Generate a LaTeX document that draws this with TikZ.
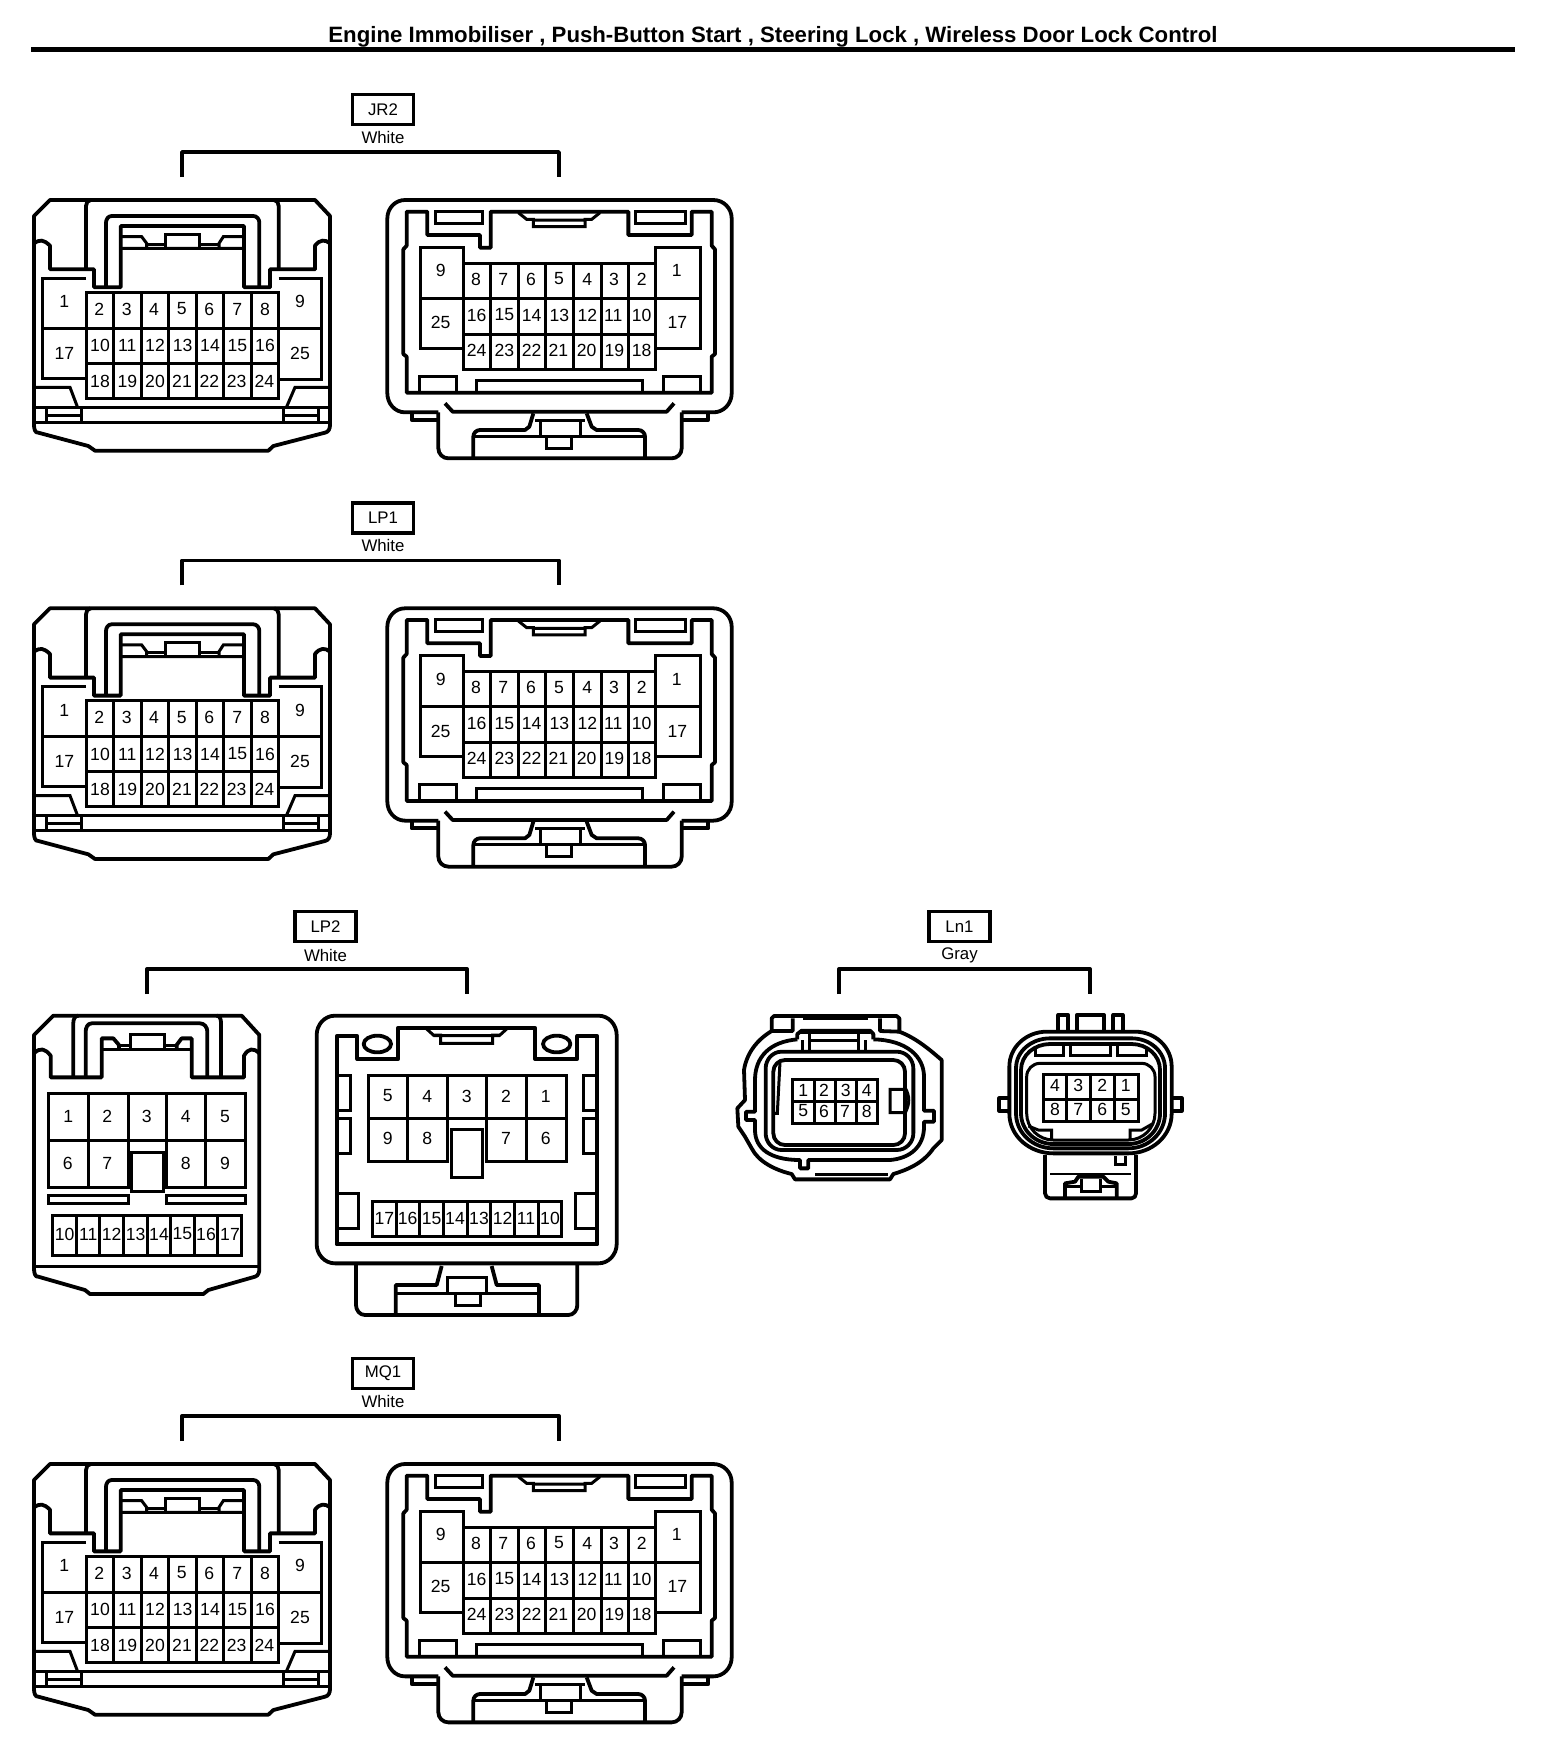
\documentclass[tikz,border=0pt]{standalone}
\usepackage{fontspec}
\setmainfont{Liberation Sans}
\tikzset{
  px/.style={x=0.5pt,y=-0.5pt},
  zm/.style={x=0.16667pt,y=-0.16667pt},
  hull/.style={draw=black,line width=1.9pt,line join=round},
  wall/.style={draw=black,line width=1.5pt,line join=miter},
  thinw/.style={draw=black,line width=1.1pt,line join=round},
  pin/.style={inner sep=0pt,font=\fontsize{8.8}{10}\selectfont},
  codebox/.style={draw=black,line width=1.7pt,minimum width=30.5pt,minimum height=15pt,inner sep=0pt,font=\fontsize{8.4}{10}\selectfont},
  colour/.style={inner sep=0pt,font=\fontsize{8.4}{10}\selectfont},
  brack/.style={draw=black,line width=1.7pt,line join=round},
}
% --- 25-way plug (left view)
\newcommand\plugA[2]{\begin{scope}[shift={(#2)},zm]
\draw[hull] (90,360)--(885,360)--(930,408)--(930,1035) to[out=-90,in=10] (915,1058)--(760,1098)--(745,1112)--(225,1112)--(205,1098)--(55,1058) to[out=190,in=-90] (42,1035)--(42,408)--cycle;
\draw[hull] (42,490)..controls (60,478) and (70,478)..(90,497)--(90,568)--(222,568)--(222,622)--(302,622)--(302,438)--(672,438)--(672,622)--(750,622)--(750,568)--(885,568)--(885,497)..controls (900,478) and (915,478)..(930,490);
\draw[hull] (198,568)--(198,378) to[out=90,in=180] (212,360);
\draw[hull] (776,568)--(776,378) to[out=90,in=0] (762,360);
\draw[hull] (258,622)--(258,428) to[out=90,in=180] (275,408)--(700,408) to[out=0,in=90] (718,428)--(718,622);
\draw[wall] (302,470)--(365,470)--(380,490)--(380,505) (302,505)--(672,505) (672,470)--(610,470)--(597,490)--(597,505);
\draw[wall] (435,505)--(435,462)--(538,462)--(538,505) (380,492)--(435,492) (538,492)--(597,492);
\draw[wall] (198,638) rectangle (776,955) (198,745)--(776,745) (198,850)--(776,850);
\foreach \c in {280,365,445,530,610,695} \draw[wall] (\c,638)--(\c,955);
\draw[wall] (198,595)--(68,595)--(68,895)--(198,895) (68,745)--(198,745);
\draw[wall] (776,595)--(905,595)--(905,897)--(776,897) (776,745)--(905,745);
\draw[wall] (42,922)--(150,922)--(172,980) (930,922)--(825,922)--(800,980);
\draw[wall] (42,982)--(930,982) (42,1028)--(930,1028);
\draw[wall] (78,985)--(78,1025) (185,985)--(185,1025) (78,1005)--(185,1005);
\draw[wall] (790,985)--(790,1025) (895,985)--(895,1025) (790,1005)--(895,1005);
\foreach \x/\y/\t in {133/665/1,238/687/2,320/687/3,402/687/4,485/687/5,568/687/6,652/687/7,735/687/8,840/665/9,240/797/10,322/797/11,405/797/12,488/797/13,570/797/14,652/797/15,735/797/16,133/820/17,240/903/18,322/903/19,405/903/20,486/903/21,568/903/22,650/903/23,733/903/24,840/820/25}
  \node[pin] (#1-\t) at (\x,\y) {\t};
\end{scope}}
% --- 25-way socket (right view)
\newcommand\plugB[2]{\begin{scope}[shift={(#2)},zm]
\draw[hull] (125,997)--(125,1020)--(205,1020);
\draw[hull] (205,997)--(205,1105) to[out=-90,in=180] (235,1135)--(905,1135) to[out=0,in=-90] (935,1105)--(935,997);
\draw[hull] (935,1020)--(1015,1020)--(1015,997);
\draw[hull] (205,997)--(105,997) to[out=180,in=-90] (52,940)--(52,415) to[out=90,in=180] (105,360)--(1030,360) to[out=0,in=90] (1085,415)--(1085,940) to[out=-90,in=0] (1030,997)--(935,997);
\draw[hull] (110,938)--(110,830)--(100,822)--(100,508)--(110,497)--(110,395)--(172,395)--(172,465)--(330,465)--(330,503)--(362,503)--(362,395)--(775,395)--(775,465)--(965,465)--(965,395)--(1025,395)--(1025,497)--(1035,508)--(1035,822)--(1025,830)--(1025,938)--cycle;
\draw[wall] (197,395) rectangle (337,430) (797,395) rectangle (945,430);
\draw[wall] (445,398)--(470,418)--(490,418)--(490,440)--(645,440)--(645,418)--(665,418)--(690,398) (490,420)--(645,420);
\draw[wall] (280,550) rectangle (855,868) (280,655)--(855,655) (280,762)--(855,762);
\foreach \c in {362,445,527,610,695,775} \draw[wall] (\c,550)--(\c,868);
\draw[wall] (280,550)--(280,503)--(150,503)--(150,805)--(280,805) (150,655)--(280,655);
\draw[wall] (855,550)--(855,503)--(990,503)--(990,805)--(855,805) (855,655)--(990,655);
\draw[wall] (148,938)--(148,890)--(258,890)--(258,938) (318,938)--(318,902)--(818,902)--(818,938) (880,938)--(880,890)--(990,890)--(990,938);
\draw[hull] (225,970)--(248,995)--(890,995)--(912,970);
\draw[hull] (490,1000)--(478,1040)--(465,1050)--(330,1050) to[out=180,in=90] (310,1070)--(310,1135);
\draw[hull] (650,1000)--(665,1040)--(680,1050)--(805,1050) to[out=0,in=90] (825,1070)--(825,1135);
\draw[wall] (310,1070)--(825,1070) (495,1020)--(645,1020) (510,1020)--(510,1070) (630,1020)--(630,1070) (530,1070)--(530,1105)--(605,1105)--(605,1070);
\foreach \x/\y/\t in {212/572/9,920/572/1,318/597/8,400/597/7,483/597/6,567/597/5,652/597/4,732/597/3,815/597/2,320/705/16,403/705/15,485/705/14,568/705/13,652/705/12,730/705/11,815/705/10,320/810/24,403/810/23,485/810/22,565/810/21,650/810/20,733/810/19,815/810/18,212/728/25,922/728/17}
  \node[pin] (#1-\t) at (\x,\y) {\t};
\end{scope}}
\newcommand\groupHead[8]{% name,label,colour,cx,boxy,left,right,colour y
  \node[codebox] (#1) at (#4,#5) {#2};
  \node[colour] (#1c) at (#4,#8) {#3};
  \coordinate (#1a) at (#6,{#5+42.5});
  \coordinate (#1b) at (#7,{#5+42.5});
  \draw[brack] (#1a)++(0,25)--(#1a)--(#1b)--++(0,25);
}
\begin{document}
\begin{tikzpicture}[px]
\useasboundingbox (0,0) rectangle (1568,1750);
\fill[white] (0,0) rectangle (1568,1750);
\node[inner sep=0pt,font=\bfseries\fontsize{11.1}{14}\selectfont] (title) at (773,36.5) {Engine Immobiliser , Push-Button Start , Steering Lock , Wireless Door Lock Control};
\coordinate (ruleL) at (31,49.3); \coordinate (ruleR) at (1515,49.3);
\draw[draw=black,line width=2.45pt] (ruleL)--(ruleR);
% group headers
\groupHead{jr}{JR2}{White}{383}{109.5}{182}{559}{137}
\groupHead{lpa}{LP1}{White}{383}{517.8}{182}{559}{545.3}
\groupHead{lpb}{LP2}{White}{325.5}{926.5}{147}{467}{955}
\groupHead{ln}{Ln1}{Gray}{959.5}{926.5}{839}{1090}{955}
\groupHead{mq}{MQ1}{White}{383}{1373.5}{182}{559}{1401}
\plugA{jrL}{20,80}
\plugB{jrR}{370,80}
\plugA{lpaL}{20,488.3}
\plugB{lpaR}{370,488.3}
\plugA{mqL}{20,1344}
\plugB{mqR}{370,1344}
% LP2 plug
\begin{scope}[shift={(20,900)},zm]
\draw[hull] (100,347)--(665,347)--(718,405)--(718,1105) to[out=-90,in=15] (705,1130)--(565,1170)--(550,1182)--(210,1182)--(195,1170)--(55,1130) to[out=195,in=-90] (42,1105)--(42,405)--cycle;
\draw[hull] (42,460)..controls (60,442) and (75,445)..(92,467)--(92,532)--(245,532)--(245,415)--(280,415)--(297,435)--(297,445);
\draw[hull] (718,460)..controls (700,442) and (685,445)..(672,467)--(672,532)--(515,532)--(515,415)--(485,415)--(470,435)--(470,445);
\draw[hull] (160,532)--(160,368) to[out=90,in=180] (175,347) (603,532)--(603,368) to[out=90,in=0] (590,347);
\draw[hull] (197,532)--(197,395) to[out=90,in=180] (215,370)--(540,370) to[out=0,in=90] (562,395)--(562,532);
\draw[wall] (245,447)--(515,447) (330,447)--(330,403)--(432,403)--(432,447) (297,435)--(330,435) (432,435)--(470,435);
\draw[wall] (325,720)--(325,862)--(85,862)--(85,580)--(677,580)--(677,862)--(440,862)--(440,720) (85,720)--(677,720);
\foreach \c in {205,325,440,557} \draw[wall] (\c,580)--(\c,720);
\draw[wall] (205,720)--(205,862) (557,720)--(557,862);
\draw[wall] (335,757) rectangle (430,875);
\draw[wall] (85,885) rectangle (325,910) (440,885) rectangle (677,910);
\draw[wall] (97,945) rectangle (665,1065);
\foreach \c in {168,238,310,382,452,523,593} \draw[wall] (\c,945)--(\c,1065);
\draw[wall] (42,1100)--(718,1100);
\foreach \x/\y/\t in {145/650/1,262/650/2,380/650/3,497/650/4,615/650/5,143/790/6,262/790/7,497/790/8,615/790/9,134/1002/10,205/1002/11,275/1002/12,347/1002/13,417/1002/14,487/1002/15,558/1002/16,630/1002/17}
  \node[pin] (lpbL-\t) at (\x,\y) {\t};
\end{scope}
% LP2 socket
\begin{scope}[shift={(300,900)},zm]
\draw[hull] (105,347)--(895,347) to[out=0,in=90] (950,405)--(950,1032) to[out=-90,in=0] (895,1090)--(105,1090) to[out=180,in=-90] (50,1032)--(50,405) to[out=90,in=180] cycle;
\draw[hull] (168,1095)--(168,1215) to[out=-90,in=180] (195,1245)--(805,1245) to[out=0,in=-90] (832,1215)--(832,1095);
\draw[hull] (110,1033)--(110,408)--(172,408)--(172,477)--(295,477)--(295,383)--(705,383)--(705,477)--(832,477)--(832,408)--(892,408)--(892,1033)--cycle;
\draw[hull] (232,432) ellipse [x radius=41,y radius=25] (770,432) ellipse [x radius=41,y radius=25];
\draw[wall] (378,385)--(400,405)--(422,405)--(422,430)--(578,430)--(578,405)--(600,405)--(622,385) (400,407)--(600,407);
\draw[wall] (110,527)--(152,527)--(152,630)--(110,630) (110,655)--(152,655)--(152,760)--(110,760) (892,527)--(850,527)--(850,630)--(892,630) (892,655)--(850,655)--(850,760)--(892,760) (110,880)--(175,880)--(175,985)--(110,985) (892,880)--(827,880)--(827,985)--(892,985);
\draw[wall] (442,655)--(442,785)--(205,785)--(205,527)--(798,527)--(798,785)--(560,785)--(560,655) (205,655)--(798,655);
\foreach \c in {323,442,560,678} \draw[wall] (\c,527)--(\c,655);
\draw[wall] (323,655)--(323,785) (678,655)--(678,785);
\draw[wall,fill=white] (453,688) rectangle (548,832);
\draw[wall] (217,905) rectangle (785,1010);
\foreach \c in {288,358,430,502,572,643,714} \draw[wall] (\c,905)--(\c,1010);
\draw[hull] (425,1098)--(410,1155)--(287,1155)--(287,1245) (575,1098)--(590,1155)--(717,1155)--(717,1245);
\draw[wall] (287,1180)--(717,1180) (442,1180)--(442,1133)--(560,1133)--(560,1180) (467,1180)--(467,1215)--(540,1215)--(540,1180);
\foreach \x/\y/\t in {263/588/5,382/588/4,500/588/3,618/588/2,737/588/1,263/715/9,382/715/8,618/715/7,737/715/6,253/955/17,323/955/16,395/955/15,465/955/14,537/955/13,608/955/12,678/955/11,750/955/10}
  \node[pin] (lpbR-\t) at (\x,\y) {\t};
\end{scope}
% Ln1 connectors
\begin{scope}[shift={(720,900)},zm]
\draw[hull] (155,393)--(155,355)--(162,348)--(530,348)--(538,355)--(538,395)..controls (590,415) and (630,450)..(665,480)--(665,720)--(640,745)..controls (610,790) and (560,810)..(520,822)--(510,838)--(225,838)--(215,822)..controls (165,810) and (115,785)..(95,745)--(75,710)--(55,680)--(52,625)--(75,600)--(72,510)..controls (80,460) and (110,420)..(155,393);
\draw[wall] (248,355)--(445,355) (285,822)--(505,822);
\draw[hull] (155,393)--(218,393)--(218,355) (480,355)--(480,393)--(538,395);
\draw[hull] (232,418)--(232,402)--(245,392)--(450,392)--(460,402)--(460,418);
\draw[hull] (232,418)..controls (150,425) and (105,470)..(105,540)--(105,635)--(78,635)--(78,660)--(105,660)--(105,690)..controls (105,745) and (150,780)..(240,780)--(240,805)--(265,805)--(265,780)--(510,780)..controls (570,775) and (612,740)..(612,680)--(612,665)--(642,665)--(642,632)--(612,632)--(612,530)..controls (612,470) and (560,420)..(460,418);
\draw[hull] (185,455)--(530,455) to[out=0,in=90] (580,505)--(580,700) to[out=-90,in=0] (530,750)--(185,750) to[out=180,in=-90] (137,700)--(137,505) to[out=90,in=180] cycle;
\draw[hull] (195,480)--(520,480) to[out=0,in=90] (555,515)--(555,700) to[out=-90,in=0] (520,735)--(195,735) to[out=180,in=-90] (160,700)--(160,515) to[out=90,in=180] cycle;
\draw[wall] (180,485)--(172,640)--(160,640);
\draw[wall] (248,420)--(248,452) (268,400)--(268,452) (415,400)--(415,452) (435,420)--(435,452) (268,420)--(415,420) (240,398)--(450,398);
\draw[wall] (555,568)--(510,568)--(510,638)--(555,638) (555,562)..controls (570,590) and (570,610)..(555,640);
\draw[wall] (218,538) rectangle (472,670) (218,605)--(472,605);
\foreach \c in {282,345,410} \draw[wall] (\c,538)--(\c,670);
\foreach \x/\y/\t in {250/572/1,312/572/2,377/572/3,440/572/4,250/633/5,312/633/6,375/633/7,440/633/8}
  \node[pin] (lnL-\t) at (\x,\y) {\t};
% right
\draw[hull] (1015,392)--(1015,345)--(1045,345)--(1045,392) (1070,392)--(1070,345)--(1152,345)--(1152,392) (1180,392)--(1180,345)--(1208,345)--(1208,392);
\draw[hull] (980,395)--(1245,395) to[out=0,in=90] (1355,500)--(1355,640) to[out=-90,in=0] (1225,760)--(1000,760) to[out=180,in=-90] (868,640)--(868,500) to[out=90,in=180] cycle;
\draw[hull] (990,415)--(1235,415) to[out=0,in=90] (1335,505)--(1335,640) to[out=-90,in=0] (1225,745)--(1000,745) to[out=180,in=-90] (888,640)--(888,505) to[out=90,in=180] cycle;
\draw[hull] (990,432)--(1235,432) to[out=0,in=90] (1320,510)--(1320,640) to[out=-90,in=0] (1225,732)--(1000,732) to[out=180,in=-90] (903,640)--(903,510) to[out=90,in=180] cycle;
\draw[wall] (960,490)--(1265,490) to[out=0,in=90] (1305,530)--(1305,640) to[out=-90,in=0] (1225,720)--(1000,720) to[out=180,in=-90] (920,640)--(920,530) to[out=90,in=180] cycle;
\draw[hull] (868,595)--(838,595)--(838,632)--(868,632) (1355,595)--(1385,595)--(1385,632)--(1355,632);
\draw[wall] (945,445)--(945,465)--(1030,465)--(1030,436) (1050,436)--(1050,465)--(1172,465)--(1172,436) (1192,436)--(1192,465)--(1280,465)--(1280,445);
\draw[wall] (925,678)--(955,690)--(995,690)--(995,722) (1230,722)--(1230,690)--(1265,690)--(1300,670);
\draw[wall] (970,523) rectangle (1255,665) (970,597)--(1255,597);
\foreach \c in {1040,1110,1182} \draw[wall] (\c,523)--(\c,665);
\foreach \x/\y/\t in {1005/555/4,1075/555/3,1147/555/2,1217/555/1,1005/628/8,1075/628/7,1147/628/6,1217/628/5}
  \node[pin] (lnR-\t) at (\x,\y) {\t};
\draw[hull] (975,765)--(975,880) to[out=-90,in=180] (990,895)--(1235,895) to[out=0,in=-90] (1248,880)--(1248,765);
\draw[thinw] (990,823)--(1233,823);
\draw[wall] (1185,768)--(1185,792)--(1215,792)--(1215,768);
\draw[hull] (1035,895)--(1035,850)--(1065,845)--(1075,830)--(1150,830)--(1165,845)--(1190,850)--(1190,895);
\draw[wall] (1085,838)--(1085,875)--(1140,875)--(1140,838) (1035,858)--(1085,858) (1140,858)--(1190,858);
\end{scope}
\end{tikzpicture}
\end{document}
